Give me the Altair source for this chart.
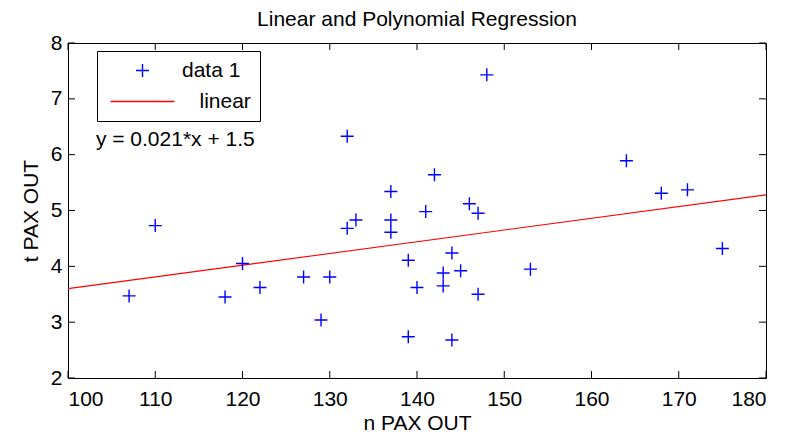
import altair as alt
import pandas as pd

# ---- data ----
n_pax_out = [107, 110, 118, 120, 122, 127, 129, 130, 132, 132, 133, 137, 137, 137,
             139, 139, 140, 141, 142, 143, 143, 144, 144, 145, 146, 147, 147, 148,
             153, 164, 168, 171, 175]
t_pax_out = [3.47, 4.73, 3.45, 4.05, 3.62, 3.81, 3.04, 3.81, 4.68, 6.33, 4.83, 5.34, 4.83, 4.61,
             4.11, 2.74, 3.62, 4.98, 5.64, 3.88, 3.65, 4.24, 2.68, 3.92, 5.12, 4.95, 3.50, 7.43,
             3.95, 5.89, 5.31, 5.37, 4.32]
fit_x = [100, 180]
fit_y = [3.60, 5.28]
series_names = ["data 1", "linear"]
series_colors = ["#0000ff", "#ff0000"]
x_ticks = [100, 110, 120, 130, 140, 150, 160, 170, 180]
y_ticks = [2, 3, 4, 5, 6, 7, 8]
annotation_text = ["y = 0.021*x + 1.5"]
annotation_x = [103.2]
annotation_y = [6.16]
title_text = "Linear and Polynomial Regression"
x_title = "n PAX OUT"
y_title = "t PAX OUT"

FONT = "Liberation Sans, Arial, sans-serif"
FS = 21
W, H = 698, 335
TICK = 7

pts = pd.DataFrame({"x": n_pax_out, "y": t_pax_out, "series": series_names[0]})
fit = pd.DataFrame({"x": fit_x, "y": fit_y, "series": series_names[1]})
xt = pd.DataFrame({"v": x_ticks})
yt = pd.DataFrame({"v": y_ticks})
ann = pd.DataFrame({"x": annotation_x, "y": annotation_y, "t": annotation_text})

xscale = alt.Scale(domain=[x_ticks[0], x_ticks[-1]], nice=False, zero=False)
yscale = alt.Scale(domain=[y_ticks[0], y_ticks[-1]], nice=False, zero=False)

X = alt.X("x:Q", scale=xscale, title=x_title,
          axis=alt.Axis(values=x_ticks, format="d", labelPadding=10, titlePadding=3))
Y = alt.Y("y:Q", scale=yscale, title=y_title,
          axis=alt.Axis(values=y_ticks, format="d", labelPadding=6, titlePadding=9))

cross = "M-1,0L1,0M0,-1L0,1"
dash = "M-4.92,0L4.92,0"

legend = alt.Legend(
    title=None, orient="none", legendX=29, legendY=8, direction="vertical",
    fillColor="white", strokeColor="black", padding=9, rowPadding=9,
    symbolSize=169, symbolStrokeWidth=1.4, symbolOffset=26, labelOffset=29,
    labelFont=FONT, labelFontSize=FS, labelColor="black",
    labelExpr="datum.label == 'linear' ? '\u200b\u00a0\u00a0\u00a0linear' : datum.label",
)
color = alt.Color("series:N", scale=alt.Scale(domain=series_names, range=series_colors), legend=legend)
shape = alt.Shape("series:N", scale=alt.Scale(domain=series_names, range=[cross, dash]), legend=legend)

points = alt.Chart(pts).mark_point(filled=False, size=169, strokeWidth=1.4, opacity=1).encode(
    x=X, y=Y, color=color, shape=shape)

line = alt.Chart(fit).mark_line(strokeWidth=1.1).encode(
    x=alt.X("x:Q", scale=xscale), y=alt.Y("y:Q", scale=yscale), color=color)

xtb = alt.Chart(xt).mark_rule(color="black", strokeWidth=1).encode(
    x=alt.X("v:Q", scale=xscale), y=alt.value(H), y2=alt.value(H - TICK))
xtt = alt.Chart(xt).mark_rule(color="black", strokeWidth=1).encode(
    x=alt.X("v:Q", scale=xscale), y=alt.value(0), y2=alt.value(TICK))
ytl = alt.Chart(yt).mark_rule(color="black", strokeWidth=1).encode(
    y=alt.Y("v:Q", scale=yscale), x=alt.value(0), x2=alt.value(TICK))
ytr = alt.Chart(yt).mark_rule(color="black", strokeWidth=1).encode(
    y=alt.Y("v:Q", scale=yscale), x=alt.value(W), x2=alt.value(W - TICK))

text = alt.Chart(ann).mark_text(align="left", baseline="alphabetic", font=FONT,
                                fontSize=FS, color="black").encode(
    x=alt.X("x:Q", scale=xscale), y=alt.Y("y:Q", scale=yscale), text="t:N")

chart = alt.layer(xtb, xtt, ytl, ytr, line, points, text).properties(
    width=W, height=H,
    title=alt.TitleParams(title_text, font=FONT, fontSize=FS, fontWeight="normal",
                          color="black", anchor="middle", baseline="alphabetic",
                          offset=0, dy=15),
    autosize=alt.AutoSizeParams(type="none"),
    padding={"left": 60, "top": 35, "right": 20, "bottom": 56},
).configure_axis(
    labelFont=FONT, labelFontSize=FS, labelColor="black",
    titleFont=FONT, titleFontSize=FS, titleFontWeight="normal", titleColor="black",
    grid=False, ticks=False, tickSize=0, domain=False,
).configure_view(stroke="black", strokeWidth=1)

chart.save("out.html", embed_options={"renderer": "svg", "actions": False})
